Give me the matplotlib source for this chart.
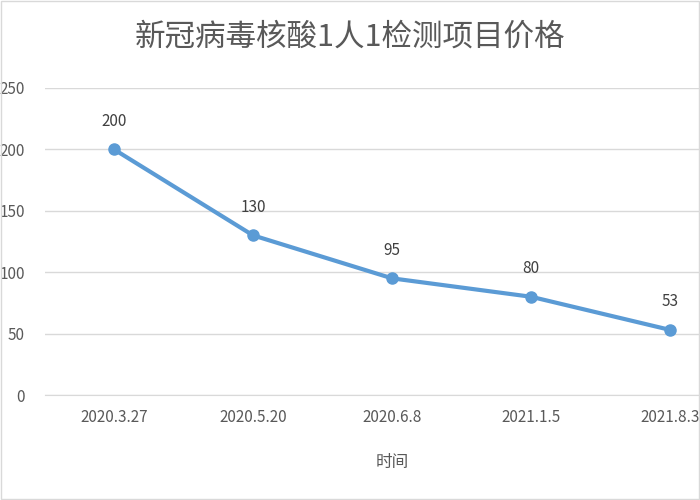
import matplotlib
matplotlib.use("Agg")
import matplotlib.pyplot as plt

plt.rcParams['font.family'] = ['Noto Sans CJK SC', 'DejaVu Sans']

dates = ["2020.3.27", "2020.5.20", "2020.6.8", "2021.1.5", "2021.8.3"]
prices = [200, 130, 95, 80, 53]
title = "新冠病毒核酸1人1检测项目价格"
xlabel = "时间"

fig = plt.figure(figsize=(7, 5), dpi=100)
ax = fig.add_axes([0.0636, 0.21, 0.993, 0.614])
x = list(range(len(dates)))
ax.plot(x, prices, color="#5B9BD5", lw=3, marker="o", ms=8)
for xi, v in zip(x, prices):
    ax.annotate(str(v), (xi, v), xytext=(0, 14), textcoords="offset points",
                ha="center", va="bottom", fontsize=11, color="#404040")
ax.set_xlim(-0.5, 4.5)
ax.set_ylim(0, 250)
ax.set_yticks(range(0, 251, 50))
ax.set_xticks(x)
ax.set_xticklabels(dates)
ax.grid(axis="y", color="#D9D9D9", lw=1)
ax.set_axisbelow(True)
for s in ["top", "right", "left"]:
    ax.spines[s].set_visible(False)
ax.spines["bottom"].set_color("#D9D9D9")
ax.tick_params(axis="x", length=0, labelsize=11, colors="#595959", pad=10)
ax.tick_params(axis="y", length=0, labelsize=11, colors="#595959", pad=14)
ax.set_xlabel(xlabel, fontsize=12, color="#595959", labelpad=20)
fig.text(0.5, 0.925, title, ha="center", va="center", fontsize=22, color="#595959")
fig.patches.append(plt.Rectangle((0.002, 0.002), 0.996, 0.996, transform=fig.transFigure,
                                 fill=False, edgecolor="#D9D9D9", lw=1))
fig.savefig("out.png", dpi=100)
